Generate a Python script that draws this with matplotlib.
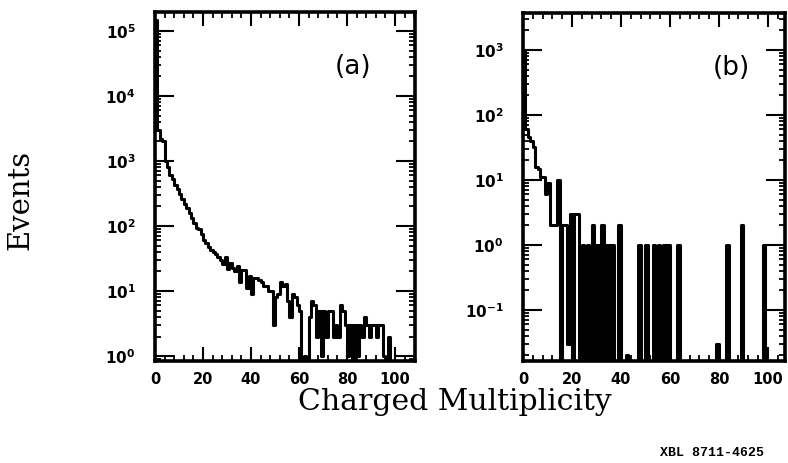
import numpy as np
import matplotlib
matplotlib.use("Agg")
import matplotlib.pyplot as plt
from matplotlib.ticker import MultipleLocator, LogLocator, NullFormatter

# ---------------- data ----------------
# Panel (a): events per unit charged-multiplicity bin, bins [i, i+1)
mult_a = [
    150000, 3000, 2200, 2000, 1000, 800, 620, 520, 430, 370,
    310, 260, 220, 190, 160, 135, 110, 92, 90, 75,
    62, 55, 48, 43, 40, 37, 34, 30, 26, 34,
    22, 27, 23, 20, 24, 14, 21, 21, 11, 17,
    9, 16, 16, 15, 14, 12, 12, 10, 10, 3,
    8, 9, 14, 12, 13, 7, 4, 9, 8, 6,
    5, 0, 1, 0, 4, 7, 6, 2, 5, 1,
    5, 2, 5, 5, 2, 3, 2, 6, 5, 3,
    1, 3, 0, 3, 1, 3, 2, 4, 3, 2,
    3, 3, 2, 3, 3, 1, 0, 2, 0, 0,
]
# Panel (b): weighted events per unit bin
mult_b = [
    1000, 60, 45, 40, 32, 16, 15, 11, 11, 6,
    9, 2, 2, 2, 10, 0, 2, 2, 0.03, 3,
    0, 3, 3, 0, 1, 0, 1, 0, 2, 0,
    1, 0, 2, 0, 1, 0, 1, 0, 0, 2,
    0, 0, 0.02, 0, 0, 0, 0, 1, 0, 0,
    1, 0, 0, 1, 0, 1, 0, 1, 0, 1,
    0, 0, 0, 1, 0, 0, 0, 0, 0, 0,
    0, 0, 0, 0, 0, 0, 0, 0, 0, 0.03,
    0, 0, 0, 1, 0, 0, 0, 0, 0, 2,
    0, 0, 0, 0, 0, 0, 0, 0, 1, 0,
]
exp_a = [0, 1, 2, 3, 4, 5]
exp_b = [-1, 0, 1, 2, 3]
xticks_vals = [0, 20, 40, 60, 80, 100]
panel_labels = ["(a)", "(b)"]
xlabel = "Charged Multiplicity"
ylabel = "Events"
stamp = "XBL 8711-4625"

# ---------------- style ----------------
plt.rcParams["mathtext.fontset"] = "dejavusans"
W, H = 788, 463
fig = plt.figure(figsize=(W / 100, H / 100), dpi=100)
fig.patch.set_facecolor("white")

axA = fig.add_axes([155 / W, (H - 361) / H, 260 / W, 349 / H])
axB = fig.add_axes([523 / W, (H - 361) / H, 262 / W, 348 / H])


def draw(ax, vals, exps, xmax, ylim, label, lab_pos):
    vals = np.asarray(vals, dtype=float)
    shown = np.where(vals > 0, vals, 1e-6)   # empty bins drop below the axis
    edges = np.arange(len(vals) + 1)
    ax.set_yscale("log")
    ax.plot(edges, np.append(shown, shown[-1]), drawstyle="steps-post",
            color="black", lw=2.2)
    ax.set_xlim(0, xmax)
    ax.set_ylim(*ylim)
    ax.set_xticks(xticks_vals)
    ax.set_xticklabels([str(v) for v in xticks_vals],
                       fontsize=10.5, fontweight="bold")
    ax.xaxis.set_minor_locator(MultipleLocator(4))
    ax.set_yticks([10.0 ** e for e in exps])
    ax.set_yticklabels([r"$\mathbf{10^{%d}}$" % e for e in exps], fontsize=11)
    ax.yaxis.set_minor_locator(LogLocator(base=10, subs=np.arange(2, 10)))
    ax.yaxis.set_minor_formatter(NullFormatter())
    ax.tick_params(axis="both", which="both", direction="in",
                   top=True, right=True, color="black", width=1.5)
    ax.tick_params(axis="y", which="major", length=14, pad=14)
    ax.tick_params(axis="x", which="major", length=10, pad=8)
    ax.tick_params(axis="both", which="minor", length=4, width=1.3)
    for s in ax.spines.values():
        s.set_linewidth(2.6)
    ax.text(lab_pos[0], lab_pos[1], label, transform=ax.transAxes,
            fontsize=19, ha="center", va="center", family="DejaVu Sans")


draw(axA, mult_a, exp_a, 108.3, (0.84, 1.96e5), panel_labels[0], (0.76, 0.842))
draw(axB, mult_b, exp_b, 107.0, (0.0164, 3700), panel_labels[1], (0.794, 0.842))

fig.text(455 / W, 1 - 402 / H, xlabel, ha="center", va="center",
         fontsize=21.5, family="DejaVu Serif")
fig.text(20 / W, 1 - 200 / H, ylabel, ha="center", va="center",
         rotation=90, fontsize=21, family="DejaVu Serif")
fig.text(712 / W, 1 - 453 / H, stamp, ha="center", va="center",
         fontsize=9.5, fontweight="bold", family="Liberation Mono")

fig.savefig("out.png", dpi=100)
